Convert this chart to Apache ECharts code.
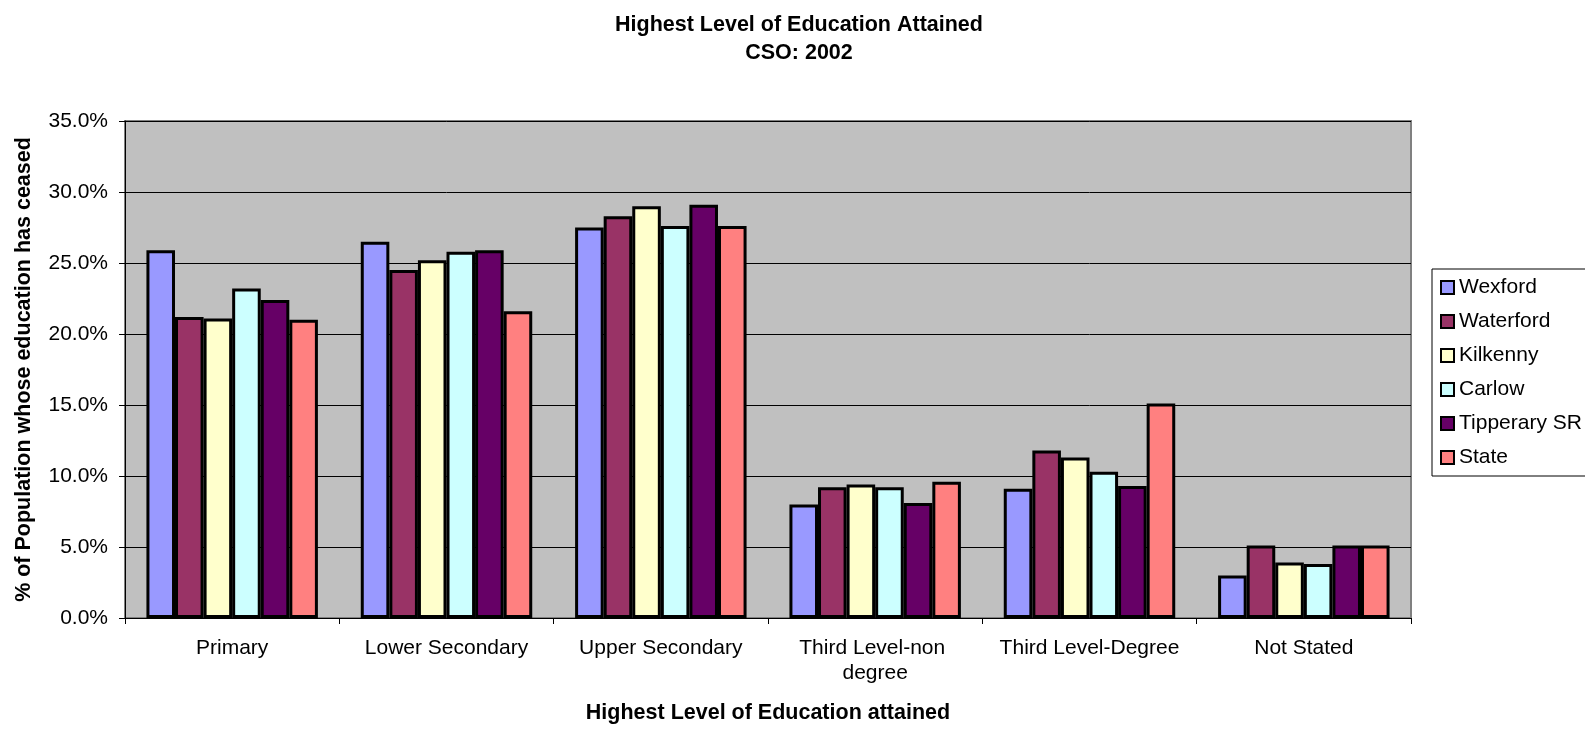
<!DOCTYPE html>
<html>
<head>
<meta charset="utf-8">
<script src="https://cdn.jsdelivr.net/npm/echarts@6/dist/echarts.min.js"></script>
<style>
  html, body { margin: 0; padding: 0; background: #fff; }
  #chart { width: 1585px; height: 729px; }
</style>
</head>
<body>
<div id="chart"></div>
<script>
var categories = ['Primary', 'Lower Secondary', 'Upper Secondary', 'Third Level-non degree', 'Third Level-Degree', 'Not Stated'];
var yTicks = [0, 5, 10, 15, 20, 25, 30, 35];

var wexford   = [25.9, 26.5, 27.5, 8.0, 9.1, 3.0];
var waterford = [21.2, 24.5, 28.3, 9.2, 11.8, 5.1];
var kilkenny  = [21.1, 25.2, 29.0, 9.4, 11.3, 3.9];
var carlow    = [23.2, 25.8, 27.6, 9.2, 10.3, 3.8];
var tipperary = [22.4, 25.9, 29.1, 8.1, 9.3, 5.1];
var state     = [21.0, 21.6, 27.6, 9.6, 15.1, 5.1];

var seriesNames = ['Wexford', 'Waterford', 'Kilkenny', 'Carlow', 'Tipperary SR', 'State'];
var seriesData = [wexford, waterford, kilkenny, carlow, tipperary, state];
var colors = ['#9999FF', '#993366', '#FFFFCC', '#CCFFFF', '#660066', '#FF8080'];

var font = "'Liberation Sans', Arial, sans-serif";

var myChart = echarts.init(document.getElementById('chart'));
myChart.setOption({
  animation: false,
  textStyle: { fontFamily: font },
  title: {
    text: 'Highest Level of Education Attained\nCSO: 2002',
    left: 794,
    textAlign: 'center',
    top: 6,
    textStyle: { fontFamily: font, fontSize: 21.5, fontWeight: 'bold', color: '#000', lineHeight: 28 }
  },
  legend: {
    data: seriesNames,
    orient: 'vertical',
    left: 1432,
    top: 269,
    padding: [8, 30, 8, 8],
    itemGap: 13,
    itemWidth: 13,
    itemHeight: 13,
    icon: 'rect',
    borderColor: '#000',
    borderWidth: 1,
    backgroundColor: '#fff',
    textStyle: { fontFamily: font, fontSize: 21, color: '#000' }
  },
  grid: {
    left: 125,
    right: 174,
    top: 121,
    bottom: 110,
    show: true,
    backgroundColor: '#C0C0C0',
    borderColor: '#808080',
    borderWidth: 2
  },
  xAxis: {
    type: 'category',
    data: categories,
    name: 'Highest Level of Education attained',
    nameLocation: 'middle',
    nameGap: 84,
    nameTextStyle: { fontFamily: font, fontSize: 21.5, fontWeight: 'bold', color: '#000' },
    axisLine: { lineStyle: { color: '#000', width: 1 } },
    axisTick: { show: true, length: 6, lineStyle: { color: '#000' } },
    axisLabel: {
      interval: 0,
      margin: 18,
      fontFamily: font,
      fontSize: 21,
      color: '#000',
      width: 200,
      overflow: 'break',
      lineHeight: 25
    }
  },
  yAxis: {
    type: 'value',
    min: 0,
    max: yTicks[yTicks.length - 1],
    interval: 5,
    name: '% of Population whose education has ceased',
    nameLocation: 'middle',
    nameGap: 90,
    nameTextStyle: { fontFamily: font, fontSize: 21.5, fontWeight: 'bold', color: '#000' },
    axisLine: { show: true, lineStyle: { color: '#000', width: 1 } },
    axisTick: { show: true, length: 6, lineStyle: { color: '#000' } },
    axisLabel: {
      margin: 17,
      fontFamily: font,
      fontSize: 21,
      color: '#000',
      formatter: function (v) { return v.toFixed(1) + '%'; }
    },
    splitLine: { show: true, lineStyle: { color: '#000', width: 1 } }
  },
  series: seriesNames.map(function (name, i) {
    return {
      name: name,
      type: 'bar',
      data: seriesData[i],
      barGap: '0%',
      barCategoryGap: '20%',
      itemStyle: { color: colors[i], borderColor: '#000', borderWidth: 3 }
    };
  })
});
</script>
</body>
</html>
